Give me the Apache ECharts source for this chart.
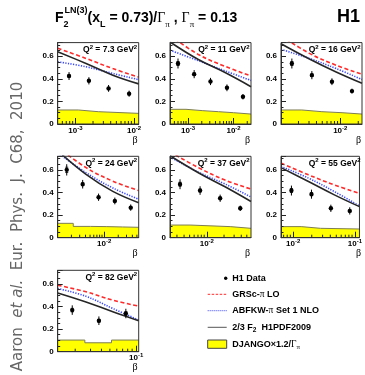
<!DOCTYPE html>
<html>
<head>
<meta charset="utf-8">
<script src="https://cdn.jsdelivr.net/npm/echarts@6/dist/echarts.min.js"></script>
<style>
  html, body { margin: 0; padding: 0; background: #fff; }
  #chart { width: 365px; height: 375px; }
</style>
</head>
<body>
<div id="chart"></div>
<script>
// Q2 of each panel (GeV^2)
const q2Labels = ['7.3', '11', '16', '24', '37', '55', '82'];

// Q2 = 7.3
const range7p3 = [5.0e-4, 1.2e-2];
const beta7p3 = [7.8e-4, 1.70e-3, 3.68e-3, 8.24e-3];
const data7p3 = [0.424, 0.382, 0.315, 0.268];
const err7p3 = [0.035, 0.032, 0.03, 0.027];
const curveBeta7p3 = [5.0e-4, 1.52e-3, 4.35e-3, 1.2e-2];
const grsc7p3 = [0.67, 0.58, 0.49, 0.415];
const abfkw7p3 = [0.55, 0.506, 0.447, 0.392];
const h1pdf7p3 = [0.64, 0.535, 0.432, 0.355];
const djangoEdges7p3 = [5.0e-4, 1.12e-3, 2.45e-3, 1.2e-2];
const django7p3 = [0.124, 0.109, 0.094];

// Q2 = 11
const range11 = [4.0e-4, 2.42e-2];
const beta11 = [6.0e-4, 1.36e-3, 3.11e-3, 7.16e-3, 1.61e-2];
const data11 = [0.535, 0.441, 0.376, 0.32, 0.241];
const err11 = [0.044, 0.036, 0.032, 0.03, 0.024];
const curveBeta11 = [4.0e-4, 1.68e-3, 6.5e-3, 2.42e-2];
const grsc11 = [0.785, 0.615, 0.51, 0.425];
const abfkw11 = [0.653, 0.56, 0.47, 0.385];
const h1pdf11 = [0.725, 0.57, 0.455, 0.33];
const djangoEdges11 = [4.0e-4, 9.0e-4, 2.11e-3, 4.67e-3, 1.0e-2, 2.42e-2];
const django11 = [0.13, 0.118, 0.109, 0.10, 0.088];

// Q2 = 16
const range16 = [1.02e-3, 2.31e-2];
const beta16 = [1.55e-3, 3.35e-3, 7.26e-3, 1.57e-2];
const data16 = [0.535, 0.432, 0.374, 0.291];
const err16 = [0.044, 0.036, 0.03, 0.022];
const curveBeta16 = [1.02e-3, 3.05e-3, 8.53e-3, 2.31e-2];
const grsc16 = [0.78, 0.625, 0.52, 0.44];
const abfkw16 = [0.66, 0.58, 0.49, 0.394];
const h1pdf16 = [0.71, 0.575, 0.46, 0.36];
const djangoEdges16 = [1.02e-3, 2.28e-3, 4.93e-3, 1.07e-2, 2.31e-2];
const django16 = [0.124, 0.109, 0.10, 0.088];

// Q2 = 24
const range24 = [1.02e-3, 5.46e-2];
const beta24 = [1.59e-3, 3.48e-3, 7.6e-3, 1.69e-2, 3.69e-2];
const data24 = [0.60, 0.473, 0.358, 0.325, 0.266];
const err24 = [0.05, 0.038, 0.032, 0.03, 0.028];
const curveBeta24 = [1.02e-3, 4.11e-3, 1.53e-2, 5.46e-2];
const grsc24 = [0.80, 0.62, 0.50, 0.417];
const abfkw24 = [0.75, 0.575, 0.44, 0.34];
const h1pdf24 = [0.77, 0.56, 0.41, 0.31];
const djangoEdges24 = [1.02e-3, 2.19e-3, 5.14e-3, 1.14e-2, 2.49e-2, 5.46e-2];
const django24 = [0.127, 0.10, 0.098, 0.095, 0.092];

// Q2 = 37
const range37 = [2.27e-3, 5.92e-2];
const beta37 = [3.4e-3, 7.62e-3, 1.71e-2, 3.84e-2];
const data37 = [0.473, 0.417, 0.349, 0.26];
const err37 = [0.044, 0.038, 0.032, 0.024];
const curveBeta37 = [2.27e-3, 7.11e-3, 2.08e-2, 5.92e-2];
const grsc37 = [0.76, 0.62, 0.51, 0.43];
const abfkw37 = [0.715, 0.58, 0.475, 0.36];
const h1pdf37 = [0.725, 0.575, 0.45, 0.32];
const djangoEdges37 = [2.27e-3, 5.09e-3, 2.56e-2, 5.92e-2];
const django37 = [0.112, 0.098, 0.083];

// Q2 = 55
const range55 = [6.35e-3, 0.1186];
const beta55 = [9.37e-3, 1.98e-2, 4.08e-2, 8.26e-2];
const data55 = [0.417, 0.385, 0.26, 0.237];
const err55 = [0.044, 0.04, 0.032, 0.032];
const curveBeta55 = [6.35e-3, 1.77e-2, 4.65e-2, 0.1186];
const grsc55 = [0.66, 0.556, 0.467, 0.393];
const abfkw55 = [0.63, 0.527, 0.408, 0.281];
const h1pdf55 = [0.62, 0.497, 0.379, 0.275];
const djangoEdges55 = [6.35e-3, 1.35e-2, 2.78e-2, 0.1186];
const django55 = [0.098, 0.083, 0.077];

// Q2 = 82
const range82 = [1.26e-2, 0.107];
const beta82 = [1.85e-2, 3.74e-2, 7.62e-2];
const data82 = [0.368, 0.274, 0.338];
const err82 = [0.042, 0.038, 0.042];
const curveBeta82 = [1.26e-2, 2.66e-2, 5.4e-2, 0.107];
const grsc82 = [0.588, 0.53, 0.456, 0.403];
const abfkw82 = [0.559, 0.49, 0.382, 0.28];
const h1pdf82 = [0.52, 0.44, 0.353, 0.274];
const djangoEdges82 = [1.26e-2, 2.58e-2, 5.22e-2, 0.107];
const django82 = [0.103, 0.079, 0.103];

// minor ticks of the log beta axis
const minorTicks = [
  2e-4, 3e-4, 4e-4, 5e-4, 6e-4, 7e-4, 8e-4, 9e-4,
  2e-3, 3e-3, 4e-3, 5e-3, 6e-3, 7e-3, 8e-3, 9e-3,
  2e-2, 3e-2, 4e-2, 5e-2, 6e-2, 7e-2, 8e-2, 9e-2,
  2e-1, 3e-1, 4e-1, 5e-1, 6e-1, 7e-1, 8e-1, 9e-1
];

const panels = [
  { range: range7p3, beta: beta7p3, f2: data7p3, err: err7p3, cb: curveBeta7p3, grsc: grsc7p3, abfkw: abfkw7p3, h1pdf: h1pdf7p3, edges: djangoEdges7p3, django: django7p3 },
  { range: range11, beta: beta11, f2: data11, err: err11, cb: curveBeta11, grsc: grsc11, abfkw: abfkw11, h1pdf: h1pdf11, edges: djangoEdges11, django: django11 },
  { range: range16, beta: beta16, f2: data16, err: err16, cb: curveBeta16, grsc: grsc16, abfkw: abfkw16, h1pdf: h1pdf16, edges: djangoEdges16, django: django16 },
  { range: range24, beta: beta24, f2: data24, err: err24, cb: curveBeta24, grsc: grsc24, abfkw: abfkw24, h1pdf: h1pdf24, edges: djangoEdges24, django: django24 },
  { range: range37, beta: beta37, f2: data37, err: err37, cb: curveBeta37, grsc: grsc37, abfkw: abfkw37, h1pdf: h1pdf37, edges: djangoEdges37, django: django37 },
  { range: range55, beta: beta55, f2: data55, err: err55, cb: curveBeta55, grsc: grsc55, abfkw: abfkw55, h1pdf: h1pdf55, edges: djangoEdges55, django: django55 },
  { range: range82, beta: beta82, f2: data82, err: err82, cb: curveBeta82, grsc: grsc82, abfkw: abfkw82, h1pdf: h1pdf82, edges: djangoEdges82, django: django82 }
];

// layout (px)
const colLeft = [57.7, 170, 281];
const rowTop = [42.6, 156.3, 270.3];
const panelW = 81;
const panelH = 81.4;
const yMax = 0.72;

const FONT = 'Liberation Sans';
const SERIF = 'Liberation Serif';
const RED = '#ff2a2a';
const BLUE = '#3846ff';
const BLACK = '#262626';

function powerLabel(v) {
  const p = Math.log10(v);
  const n = Math.round(p);
  if (Math.abs(p - n) > 1e-6) return '';
  return '{b|10}{e|' + n + '}';
}

function renderPoint(params, api) {
  const x = api.value(0), y = api.value(1), e = api.value(2);
  const c = api.coord([x, y]);
  const top = api.coord([x, y + e]);
  const bot = api.coord([x, y - e]);
  return {
    type: 'group',
    children: [
      { type: 'line', shape: { x1: c[0], y1: top[1], x2: c[0], y2: bot[1] }, style: { stroke: '#000', lineWidth: 1 } },
      { type: 'line', shape: { x1: c[0] - 1.5, y1: top[1] + 3, x2: c[0] + 1.5, y2: top[1] + 3 }, style: { stroke: '#000', lineWidth: 0.8 } },
      { type: 'line', shape: { x1: c[0] - 1.5, y1: bot[1] - 3, x2: c[0] + 1.5, y2: bot[1] - 3 }, style: { stroke: '#000', lineWidth: 0.8 } },
      { type: 'circle', shape: { cx: c[0], cy: c[1], r: 2.2 }, style: { fill: '#000' } }
    ]
  };
}

function renderTick(params, api) {
  const p = api.coord([api.value(0), 0]);
  return { type: 'line', shape: { x1: p[0], y1: p[1], x2: p[0], y2: p[1] - 3 }, style: { stroke: '#222', lineWidth: 1 } };
}

function getOption() {
  const grid = [], xAxis = [], yAxis = [], series = [], graphic = [];

  panels.forEach((pn, i) => {
    const left = colLeft[i % 3];
    const top = rowTop[Math.floor(i / 3)];

    grid.push({ left: left, top: top, width: panelW, height: panelH, show: true, borderColor: '#333', borderWidth: 1, backgroundColor: 'transparent', z: 10 });

    xAxis.push({
      type: 'log', logBase: 10, gridIndex: i, min: pn.range[0], max: pn.range[1], z: 8,
      axisLine: { show: true, lineStyle: { color: '#333', width: 1 } },
      axisTick: { show: true, inside: true, length: 6, lineStyle: { color: '#222' } },
      minorTick: { show: false },
      splitLine: { show: false },
      axisLabel: {
        margin: 1, showMinLabel: false, showMaxLabel: false, formatter: powerLabel,
        rich: {
          b: { fontSize: 8, fontWeight: 'bold', fontFamily: FONT, color: '#000' },
          e: { fontSize: 6, fontWeight: 'bold', fontFamily: FONT, color: '#000', padding: [0, 0, 5, 0] }
        }
      }
    });

    yAxis.push({
      type: 'value', gridIndex: i, min: 0, max: yMax, interval: 0.2, z: 8,
      axisLine: { show: true, lineStyle: { color: '#333', width: 1 } },
      axisTick: { show: true, inside: true, length: 5, lineStyle: { color: '#222' } },
      minorTick: { show: true, splitNumber: 4, length: 2.5, lineStyle: { color: '#222' } },
      splitLine: { show: false },
      axisLabel: {
        margin: 4, showMaxLabel: false, fontSize: 8, fontWeight: 'bold', fontFamily: FONT, color: '#000',
        formatter: v => (v === 0 ? '0' : v.toFixed(1))
      }
    });

    // DJANGO histogram
    const hist = pn.edges.map((e, k) => [e, pn.django[Math.min(k, pn.django.length - 1)]]);
    series.push({
      type: 'line', xAxisIndex: i, yAxisIndex: i, data: hist, step: 'end', symbol: 'none', silent: true, z: 1,
      lineStyle: { color: '#7d7d55', width: 1 },
      areaStyle: { color: '#ffff00', opacity: 1 }
    });

    // minor ticks of beta axis
    series.push({
      type: 'custom', xAxisIndex: i, yAxisIndex: i, z: 3, silent: true,
      data: minorTicks.filter(v => v > pn.range[0] && v < pn.range[1]).map(v => [v, 0]),
      renderItem: renderTick, encode: { x: 0, y: 1 }
    });

    const curve = (vals) => pn.cb.map((b, k) => [b, vals[k]]);
    series.push({
      name: 'GRSc', type: 'line', xAxisIndex: i, yAxisIndex: i, data: curve(pn.grsc), smooth: 0.4, symbol: 'none', z: 4,
      lineStyle: { color: RED, width: 1.6, type: [4, 2.5] }
    });
    series.push({
      name: 'ABFKW', type: 'line', xAxisIndex: i, yAxisIndex: i, data: curve(pn.abfkw), smooth: 0.4, symbol: 'none', z: 4,
      lineStyle: { color: BLUE, width: 1.6, type: [1.2, 1.4] }
    });
    series.push({
      name: 'H1PDF', type: 'line', xAxisIndex: i, yAxisIndex: i, data: curve(pn.h1pdf), smooth: 0.4, symbol: 'none', z: 4,
      lineStyle: { color: BLACK, width: 1.6 }
    });

    // H1 data with errors
    series.push({
      type: 'custom', xAxisIndex: i, yAxisIndex: i, z: 6,
      data: pn.beta.map((b, k) => [b, pn.f2[k], pn.err[k]]),
      renderItem: renderPoint, encode: { x: 0, y: 1 }
    });

    // Q2 label and beta axis title
    graphic.push({
      type: 'text', x: left + panelW - 1.5, y: top + 7, z: 20,
      style: {
        text: '{n|Q}{s|2}{n| = ' + q2Labels[i] + ' GeV}{s|2}',
        align: 'right', verticalAlign: 'middle',
        rich: {
          n: { fontSize: 8.5, fontWeight: 'bold', fontFamily: FONT, fill: '#000' },
          s: { fontSize: 6, fontWeight: 'bold', fontFamily: FONT, fill: '#000', padding: [0, 0, 5, 0] }
        }
      }
    });
    graphic.push({
      type: 'text', x: left + panelW - 1, y: top + panelH + 16, z: 20,
      style: { text: 'β', align: 'right', verticalAlign: 'middle', fontSize: 10, fontFamily: SERIF, fill: '#000' }
    });
  });

  // title
  graphic.push({
    type: 'text', x: 55, y: 18.3, z: 20,
    style: {
      text: '{t|F}{s2|2}{t|(x}{s|L}{t| = 0.73)/}{g|Γ}{gs|π}{t| , }{g|Γ}{gs|π}{t| = 0.13}',
      align: 'left', verticalAlign: 'middle',
      rich: {
        t: { fontSize: 14, fontWeight: 'bold', fontFamily: FONT, fill: '#000' },
        s2: { fontSize: 9, fontWeight: 'bold', fontFamily: FONT, fill: '#000', width: 24, padding: [13, 0, 0, 0] },
        s: { fontSize: 9, fontWeight: 'bold', fontFamily: FONT, fill: '#000', padding: [13, 0, 0, 0] },
        g: { fontSize: 14, fontFamily: SERIF, fill: '#000' },
        gs: { fontSize: 9, fontFamily: SERIF, fill: '#000', padding: [13, 0, 0, 0] }
      }
    }
  });
  graphic.push({
    type: 'text', x: 64.5, y: 11, z: 20,
    style: { text: 'LN(3)', align: 'left', verticalAlign: 'middle', fontSize: 9, fontWeight: 'bold', fontFamily: FONT, fill: '#000' }
  });
  graphic.push({
    type: 'text', x: 360, y: 16.7, z: 20,
    style: { text: 'H1', align: 'right', verticalAlign: 'middle', fontSize: 18, fontWeight: 'bold', fontFamily: FONT, fill: '#000' }
  });

  // reference on the left
  graphic.push({
    type: 'text', x: 18, y: 226.5, rotation: Math.PI / 2, z: 20,
    style: {
      text: '{n|Aaron  }{i|et al.}{n|  Eur.  Phys.  J.  C68,  2010}',
      align: 'center', verticalAlign: 'middle',
      rich: {
        n: { fontSize: 15, fontFamily: 'DejaVu Sans', fill: '#666' },
        i: { fontSize: 15, fontFamily: 'DejaVu Sans', fontStyle: 'italic', fill: '#666' }
      }
    }
  });

  // legend
  const legRich = {
    t: { fontSize: 9, fontWeight: 'bold', fontFamily: FONT, fill: '#000' },
    g: { fontSize: 9.5, fontFamily: SERIF, fill: '#000' },
    sub: { fontSize: 6.5, fontWeight: 'bold', fontFamily: FONT, fill: '#000', padding: [6, 0, 0, 0] },
    gs: { fontSize: 7, fontFamily: SERIF, fill: '#000', padding: [6, 0, 0, 0] }
  };
  const legX = 232.3;
  const legItems = [
    { y: 278.3, text: '{t|H1 Data}' },
    { y: 294.3, text: '{t|GRSc-}{g|π}{t| LO}' },
    { y: 310.7, text: '{t|ABFKW-}{g|π}{t| Set 1 NLO}' },
    { y: 327.3, text: '{t|2/3 F}{sub|2}{t|  H1PDF2009}' },
    { y: 344.2, text: '{t|DJANGO×1.2/}{g|Γ}{gs|π}' }
  ];
  legItems.forEach(it => {
    graphic.push({ type: 'text', x: legX, y: it.y, z: 20, style: { text: it.text, align: 'left', verticalAlign: 'middle', rich: legRich } });
  });
  graphic.push({ type: 'circle', shape: { cx: 225.7, cy: 278.3, r: 1.7 }, style: { fill: '#000' }, z: 20 });
  graphic.push({ type: 'line', shape: { x1: 207.7, y1: 294.3, x2: 226.7, y2: 294.3 }, style: { stroke: RED, lineWidth: 1, lineDash: [2.5, 1.5] }, z: 20 });
  graphic.push({ type: 'line', shape: { x1: 207.7, y1: 310.7, x2: 226.7, y2: 310.7 }, style: { stroke: BLUE, lineWidth: 1, lineDash: [1, 1] }, z: 20 });
  graphic.push({ type: 'line', shape: { x1: 207.7, y1: 327.3, x2: 226.7, y2: 327.3 }, style: { stroke: '#555', lineWidth: 1 }, z: 20 });
  graphic.push({ type: 'rect', shape: { x: 207.7, y: 340, width: 19, height: 8.3 }, style: { fill: '#ffff00', stroke: '#444', lineWidth: 1 }, z: 20 });

  return { animation: false, backgroundColor: '#fff', grid, xAxis, yAxis, series, graphic };
}

const chart = echarts.init(document.getElementById('chart'));
chart.setOption(getOption());
</script>
</body>
</html>
